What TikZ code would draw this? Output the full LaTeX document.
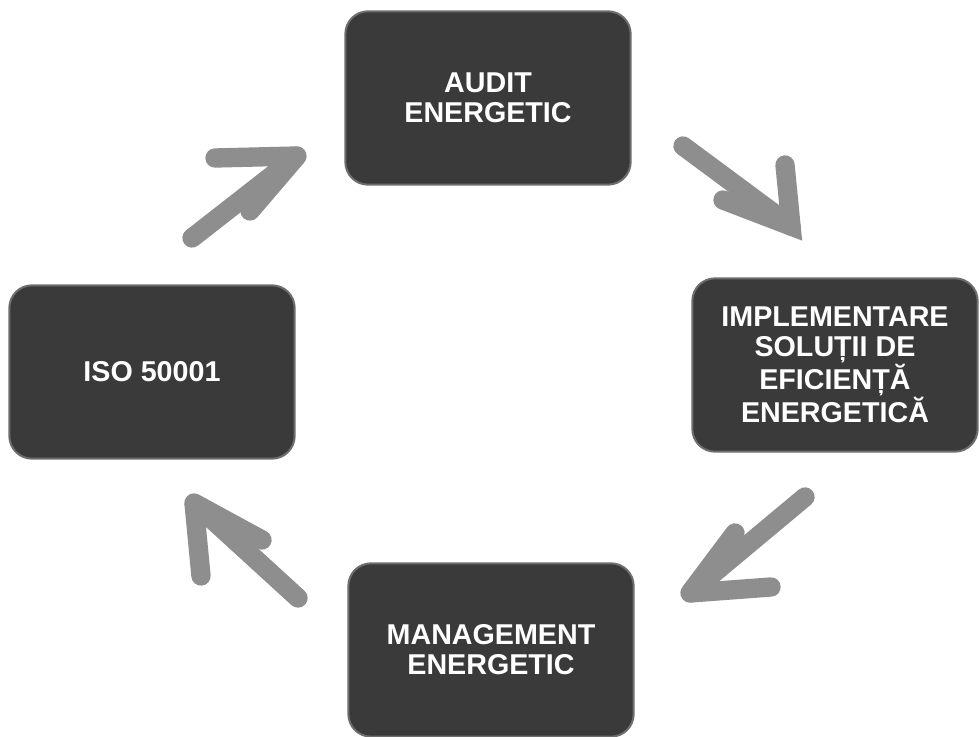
\documentclass[tikz,border=0pt]{standalone}
\usepackage{fontspec}
\setmainfont{Liberation Sans}
\definecolor{boxfill}{HTML}{3A3A3A}
\definecolor{boxedge}{HTML}{6E6E6E}
\definecolor{arrowfill}{HTML}{8E8E8E}
\begin{document}
\begin{tikzpicture}[x=0.75pt,y=-0.75pt,
  box/.style={rectangle, rounded corners=17pt, fill=boxfill, draw=boxedge, line width=1.5pt,
    minimum width=214pt, minimum height=130pt, align=center, text=white,
    font=\fontsize{21.5pt}{22.5pt}\selectfont\bfseries, inner sep=2pt},
  bigarrow/.style={draw=arrowfill, line width=14.5pt, line join=miter, miter limit=2, line cap=round}]
\useasboundingbox (0,0) rectangle (979,737);
\fill[white] (0,0) rectangle (979,737);

\node[box] (audit) at (488,98) {AUDIT\\ENERGETIC};
\node[box] (impl) at (835,365) {IMPLEMENTARE\\SOLUȚII DE\\EFICIENȚĂ\\ENERGETICĂ};
\node[box] (mgmt) at (491,650) {MANAGEMENT\\ENERGETIC};
\node[box] (iso) at (152,372) {ISO 50001};

% arrow ISO -> AUDIT
\coordinate (aT) at (297,156);
\coordinate (aB1) at (215,158);
\coordinate (aB2) at (250,211);
\coordinate (aS) at (192,238);
\draw[bigarrow] (aB1) -- (aT) -- (aB2);
\draw[bigarrow] (aT) -- (aS);

% arrow AUDIT -> IMPLEMENTARE
\coordinate (bT) at (791,226);
\coordinate (bB1) at (785,165);
\coordinate (bB2) at (723,200);
\coordinate (bS) at (683,146);
\draw[bigarrow] (bB1) -- (bT) -- (bB2);
\draw[bigarrow] (bT) -- (bS);

% arrow IMPLEMENTARE -> MANAGEMENT
\coordinate (cT) at (690,593);
\coordinate (cB1) at (771,587);
\coordinate (cB2) at (735,533);
\coordinate (cS) at (805,497);
\draw[bigarrow] (cB1) -- (cT) -- (cB2);
\draw[bigarrow] (cT) -- (cS);

% arrow MANAGEMENT -> ISO
\coordinate (dT) at (194,503);
\coordinate (dB1) at (262,540);
\coordinate (dB2) at (201,576);
\coordinate (dS) at (298,598);
\draw[bigarrow] (dB1) -- (dT) -- (dB2);
\draw[bigarrow] (dT) -- (dS);
\end{tikzpicture}
\end{document}
